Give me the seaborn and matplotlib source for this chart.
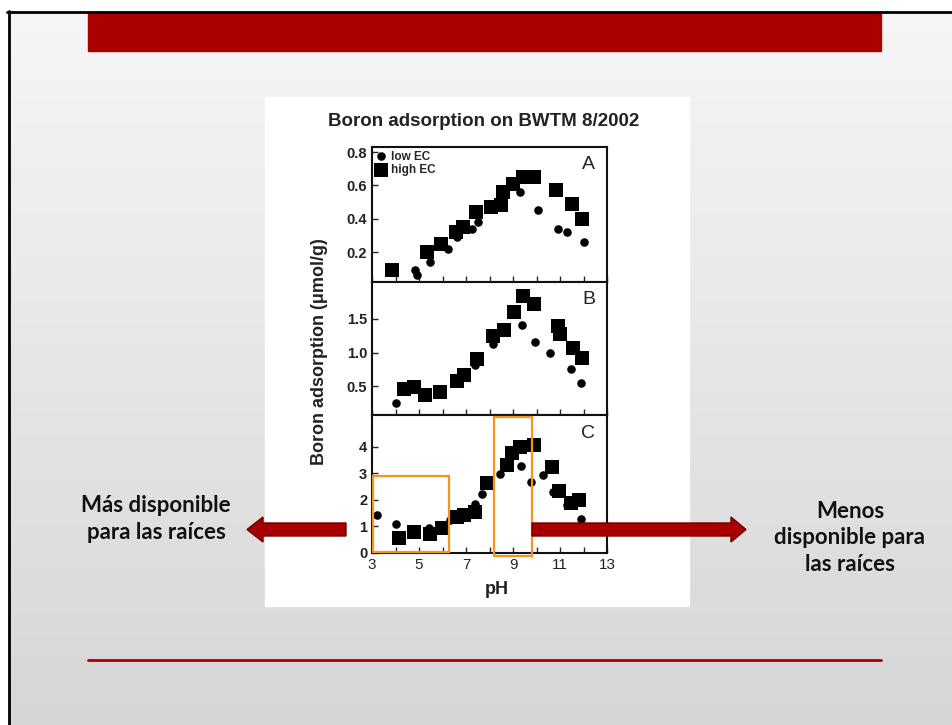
import seaborn as sns
import matplotlib.pyplot as plt
import matplotlib.patches as mpatches
import numpy as np
import pandas as pd

# panel A (0.8 scale)
a_high_ph = [3.86, 5.32, 5.95, 6.59, 6.87, 7.44, 8.07, 8.49, 8.59, 8.99, 9.41, 9.90, 10.83, 11.53, 11.93]
a_high_val = [0.09, 0.20, 0.25, 0.32, 0.35, 0.44, 0.47, 0.48, 0.56, 0.61, 0.65, 0.65, 0.57, 0.49, 0.40]
a_low_ph = [4.83, 4.93, 5.47, 6.25, 6.60, 7.24, 7.52, 8.49, 9.30, 10.05, 10.90, 11.28, 12.03]
a_low_val = [0.09, 0.06, 0.14, 0.22, 0.29, 0.34, 0.38, 0.52, 0.56, 0.45, 0.34, 0.32, 0.26]

# panel B
b_high_ph = [4.35, 4.77, 5.27, 5.90, 6.62, 6.90, 7.47, 8.17, 8.60, 9.03, 9.43, 9.90, 10.90, 11.00, 11.55, 11.94]
b_high_val = [0.45, 0.48, 0.37, 0.41, 0.58, 0.66, 0.90, 1.25, 1.33, 1.60, 1.84, 1.72, 1.40, 1.27, 1.07, 0.92]
b_low_ph = [4.03, 7.40, 8.17, 9.38, 9.95, 10.59, 11.48, 11.89]
b_low_val = [0.25, 0.82, 1.12, 1.41, 1.15, 0.99, 0.75, 0.55]

# panel C
c_high_ph = [4.13, 4.77, 5.48, 5.98, 6.62, 6.90, 7.40, 7.89, 8.74, 8.96, 9.31, 9.88, 10.66, 10.94, 11.47, 11.82]
c_high_val = [0.56, 0.80, 0.72, 0.93, 1.36, 1.42, 1.54, 2.65, 3.33, 3.77, 4.01, 4.07, 3.23, 2.35, 1.88, 2.00]
c_low_ph = [3.21, 4.03, 5.41, 6.33, 7.40, 7.68, 8.43, 9.34, 9.77, 10.28, 10.70, 11.30, 11.91]
c_low_val = [1.42, 1.11, 0.93, 1.23, 1.85, 2.22, 2.99, 3.27, 2.69, 2.94, 2.31, 1.81, 1.30]

panels = [
    ("A", a_high_ph, a_high_val, a_low_ph, a_low_val, (0.02, 0.83), [0.2, 0.4, 0.6, 0.8], ["0.2", "0.4", "0.6", "0.8"]),
    ("B", b_high_ph, b_high_val, b_low_ph, b_low_val, (0.07, 2.05), [0.5, 1.0, 1.5], ["0.5", "1.0", "1.5"]),
    ("C", c_high_ph, c_high_val, c_low_ph, c_low_val, (0.0, 5.2), [0, 1, 2, 3, 4], ["0", "1", "2", "3", "4"]),
]

sns.set_style("ticks")
plt.rcParams['font.family'] = ['Liberation Sans', 'DejaVu Sans']

W, H = 952, 725
fig = plt.figure(figsize=(W / 100, H / 100), dpi=100)

# slide background
bg = fig.add_axes([0, 0, 1, 1], zorder=-10)
bg.axis("off")
grad = np.linspace(0, 1, 256).reshape(-1, 1)
cmap = plt.matplotlib.colors.LinearSegmentedColormap.from_list("g", ["#f6f6f6", "#d6d6d6"])
bg.imshow(grad, cmap=cmap, extent=[7, W, H, 11], aspect="auto")
bg.add_patch(mpatches.Rectangle((0, 0), W, 11, color="white"))
bg.add_patch(mpatches.Rectangle((0, 0), 7, H, color="white"))
bg.plot([7, W], [12, 12], color="black", lw=2)
bg.plot([8.5, 8.5], [11, H], color="black", lw=2)
bg.add_patch(mpatches.Rectangle((88, 13), 793, 38, color="#aa0000"))
bg.plot([88, 881], [660, 660], color="#a80000", lw=2)
bg.add_patch(mpatches.Rectangle((265, 97), 424, 509, color="white"))
bg.set_xlim(0, W)
bg.set_ylim(H, 0)

# chart panels
px0, px1 = 372, 607
edges = [(147, 282), (282, 415), (415, 553)]
for (letter, hx, hy, lx, ly, ylim, yt, ytl), (t, b) in zip(panels, edges):
    ax = fig.add_axes([px0 / W, 1 - b / H, (px1 - px0) / W, (b - t) / H])
    sns.scatterplot(x=hx, y=hy, ax=ax, marker="s", s=95, color="black", linewidth=0, label="high EC")
    sns.scatterplot(x=lx, y=ly, ax=ax, marker="o", s=38, color="black", linewidth=0, label="low EC")
    ax.set_xlim(3, 13)
    ax.set_ylim(*ylim)
    ax.set_yticks(yt)
    ax.set_yticklabels(ytl, fontsize=10.5, fontweight="bold", color="#222222")
    ax.set_xticks(range(3, 14, 2))
    ax.set_xticks(range(4, 13), minor=True)
    ax.tick_params(direction="in", length=4, width=1, which="both", top=False, right=False)
    for sp in ax.spines.values():
        sp.set_visible(True)
        sp.set_linewidth(1.5)
        sp.set_color("#111111")
    ax.text(0.95, 0.93, letter, transform=ax.transAxes, ha="right", va="top", fontsize=14, color="#222222")
    if letter == "A":
        h, l = ax.get_legend_handles_labels()
        ax.legend(h[::-1], l[::-1], loc="upper left", frameon=False,
                  prop={"weight": "bold", "size": 8.5}, handletextpad=0.3, borderaxespad=0.2,
                  labelspacing=0.15, handlelength=1.0, borderpad=0.1)
    else:
        ax.get_legend().remove()
    if letter != "C":
        ax.set_xticklabels([])
    else:
        ax.set_xticklabels([str(v) for v in range(3, 14, 2)], fontsize=11, color="#222222")
    ax.set_xlabel("")
    ax.set_ylabel("")

fig.text(484 / W, 1 - 121 / H, "Boron adsorption on BWTM 8/2002", ha="center", va="center",
         fontsize=13.5, fontweight="bold", color="#222222")
fig.text(320 / W, 1 - 352 / H, "Boron adsorption (\u03bcmol/g)", rotation=90, ha="center", va="center",
         fontsize=13, fontweight="bold", color="#222222")
fig.text(497 / W, 1 - 589 / H, "pH", ha="center", va="center", fontsize=13, fontweight="bold", color="#222222")

# overlay: highlight boxes, arrows, notes
ov = fig.add_axes([0, 0, 1, 1], zorder=10)
ov.set_xlim(0, W)
ov.set_ylim(H, 0)
ov.axis("off")
ov.patch.set_alpha(0)
ov.add_patch(mpatches.Rectangle((373, 476), 76, 76, fill=False, edgecolor="#f7931e", lw=1.6))
ov.add_patch(mpatches.Rectangle((494, 417), 38, 139, fill=False, edgecolor="#f7931e", lw=1.6))


def arrow(x_tail, x_head_base, x_tip):
    pts = [(x_tail, 523), (x_head_base, 523), (x_head_base, 517), (x_tip, 529.5),
           (x_head_base, 542), (x_head_base, 536), (x_tail, 536)]
    ov.add_patch(mpatches.Polygon(pts, closed=True, facecolor="#a80000", edgecolor="#6e0000", lw=1))


arrow(346, 263, 247)
arrow(532, 731, 746)

note = dict(ha="center", va="center", fontsize=16, fontweight="bold", color="#111111",
            family=["Lato", "DejaVu Sans"], linespacing=1.3)
ov.text(156, 519, "Más disponible\npara las raíces", **note)
ov.text(850, 538, "Menos\ndisponible para\nlas raíces", **note)

fig.savefig("out.png", dpi=100)
